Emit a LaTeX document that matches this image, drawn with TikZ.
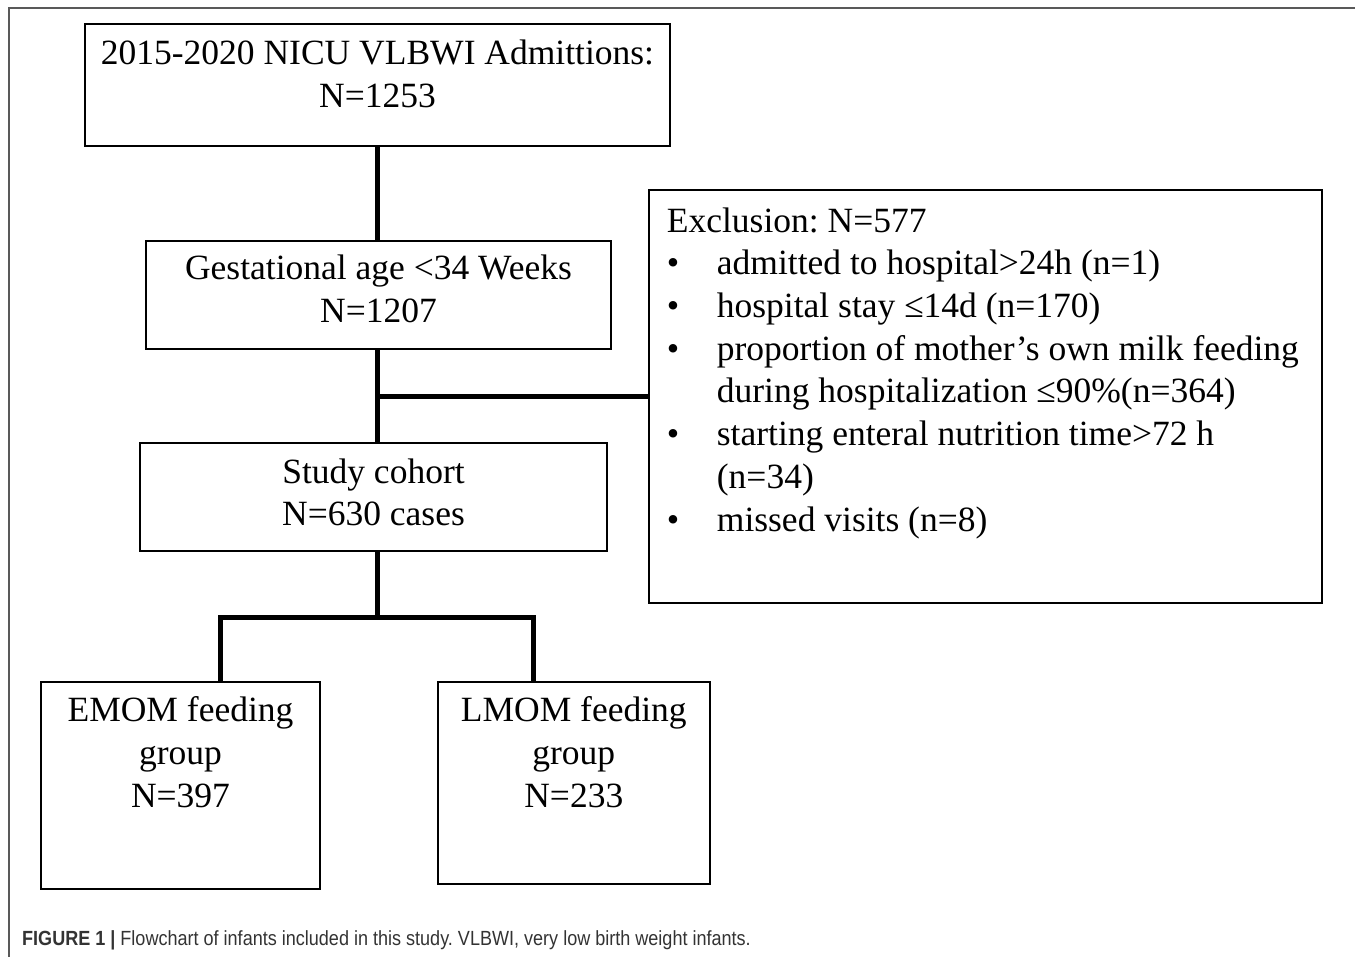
\documentclass[tikz,border=0pt]{standalone}
\usepackage{fontspec}
\setmainfont{Liberation Serif}
\newfontfamily\capfont[FakeStretch=0.88]{Liberation Sans}
\usepackage{tikz}
\frenchspacing

\begin{document}
\begin{tikzpicture}[%
        x=1pt, y=-1pt,                        % one unit per pixel, y grows downwards
        font=\fontsize{35.5}{42.7}\selectfont, % serif text of the boxes
    ]
    \tikzset{
        box/.style={draw, rectangle, line width=2pt, inner sep=0pt},
        % texts are placed on the baseline of their last line
        txt/.style={align=center, inner sep=0pt, anchor=base},
        list/.style={align=left, inner sep=0pt, anchor=base west},
        % connector lines between the boxes
        link/.style={draw, line width=5pt},
        frame/.style={draw, black!65, line width=2pt},
        capt/.style={inner sep=0pt, anchor=base west, text=black!80,
            font={\capfont\fontsize{20.5}{22}\selectfont}},
    }
    \useasboundingbox (0,0) rectangle (1355,957);
    %%% Frame
    \draw [frame] (8.5,957) -- (8.5,8.5) -- (1355,8.5);
    %%% Blocks
    \node [box, minimum width=585pt, minimum height=122pt] (admit) at (377.5,85) {};
    \node [box, minimum width=465pt, minimum height=108.5pt] (gest) at (378.5,294.8) {};
    \node [box, minimum width=467pt, minimum height=108pt] (cohort) at (373.5,497) {};
    \node [box, minimum width=673.5pt, minimum height=413pt] (excl) at (985.3,396.5) {};
    \node [box, minimum width=279pt, minimum height=206.5pt] (emom) at (180.5,785.3) {};
    \node [box, minimum width=272.5pt, minimum height=202pt] (lmom) at (573.8,783) {};
    %%% Texts
    \node [txt] (admit_txt) at ([yshift=-84.3pt]admit.north) {
        2015-2020 NICU VLBWI Admittions:\\N=1253
    };
    \node [txt] (gest_txt) at ([yshift=-82.8pt]gest.north) {
        Gestational age <34 Weeks\\N=1207
    };
    \node [txt] (cohort_txt) at ([yshift=-83.7pt]cohort.north) {
        Study cohort\\N=630 cases
    };
    \node [txt] (emom_txt) at ([yshift=-126.3pt]emom.north) {
        EMOM feeding\\group\\N=397
    };
    \node [txt] (lmom_txt) at ([yshift=-126.3pt]lmom.north) {
        LMOM feeding\\group\\N=233
    };
    \node [list] (excl_txt) at (666.7,531) {
        Exclusion: N=577\\
        \makebox[50pt][l]{\textbullet}admitted to hospital>24h (n=1)\\
        \makebox[50pt][l]{\textbullet}hospital stay ≤14d (n=170)\\
        \makebox[50pt][l]{\textbullet}proportion of mother’s own milk feeding\\
        \hspace*{50pt}during hospitalization ≤90\%(n=364)\\
        \makebox[50pt][l]{\textbullet}starting enteral nutrition time>72 h\\
        \hspace*{50pt}(n=34)\\
        \makebox[50pt][l]{\textbullet}missed visits (n=8)
    };
    \node [capt] (caption) at (22,945) {%
        \textbf{FIGURE 1 |} Flowchart of infants included in this study. VLBWI, very low birth weight infants.%
    };
    %%% Nodes
    \coordinate (fork_l) at (220,617.5);
    \coordinate (fork_r) at (533.5,617.5);
    %%% Connectors
    \draw [link] (admit.south) -- (admit.south |- gest.north);
    \draw [link] (admit.south |- gest.south) -- (admit.south |- cohort.north);
    \draw [link] (excl.west) -- (excl.west -| admit.south);
    \draw [link] (admit.south |- cohort.south) -- (admit.south |- fork_l);
    \draw [link] (fork_l |- emom.north) -- (fork_l) -- (fork_r) -- (fork_r |- lmom.north);
\end{tikzpicture}
\end{document}
